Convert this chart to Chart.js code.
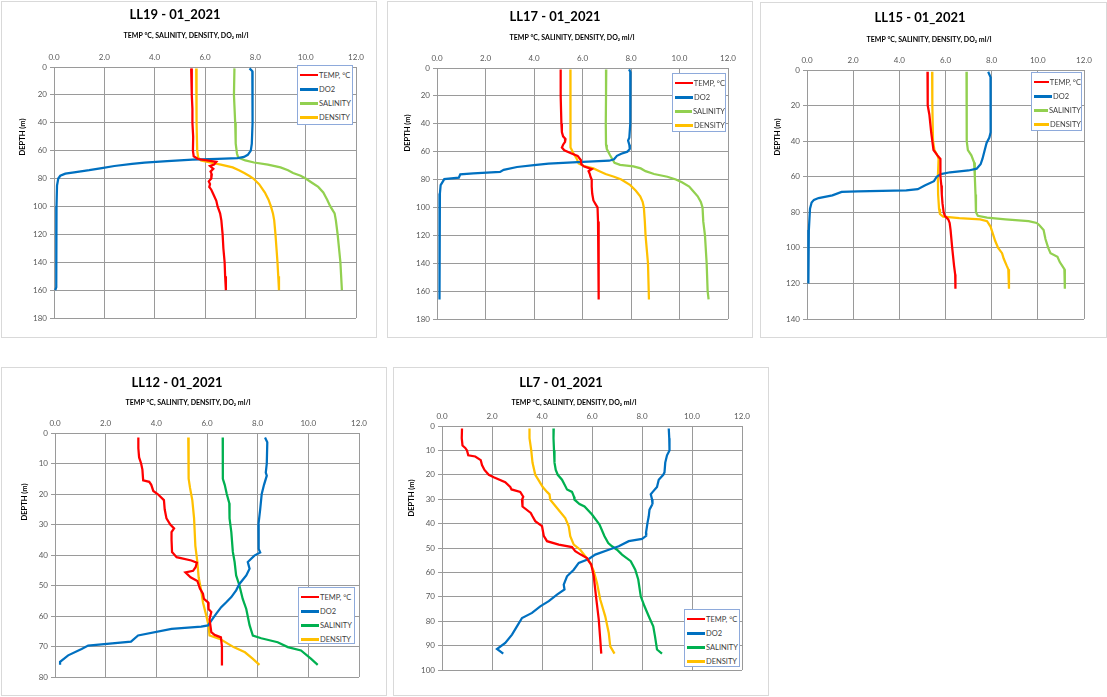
<!DOCTYPE html>
<html>
<head>
<meta charset="utf-8">
<script src="https://cdn.jsdelivr.net/npm/chart.js@4.4.1/dist/chart.umd.min.js"></script>
<style>
body { margin: 0; background: #fff; width: 1107px; height: 697px; position: relative; overflow: hidden; font-family: Lato, "Open Sans", sans-serif; }
canvas { position: absolute; outline: 1px solid #d9d9d9; }
.legend { position: absolute; box-sizing: border-box; border: 1px solid #8eaadb; background: #fff; padding-top: 2px; font-size: 7.5px; color: #404040; }
.legend .row { display: flex; align-items: center; height: 14.2px; white-space: nowrap; }
.legend .swatch { display: inline-block; width: 18px; height: 2.5px; margin: 0 1px 0 2px; }
</style>
</head>
<body>
<script>
// depth (m), value
const LL19_TEMP = [[1,5.45],[10,5.47],[20,5.48],[30,5.5],[40,5.5],[50,5.53],[60,5.52],[64,5.55],[66,5.72],[68,6.45],[70,6.36],[71,6.2],[73,6.33],[75,6.22],[77,6.27],[80,6.25],[82,6.15],[84,6.2],[86,6.17],[88,6.25],[92,6.35],[96,6.45],[100,6.5],[105,6.6],[110,6.65],[120,6.7],[130,6.73],[140,6.78],[150,6.8],[160,6.83]];
const LL19_DO2 = [[1,7.77],[3,7.88],[20,7.9],[40,7.88],[55,7.86],[60,7.82],[63,7.7],[64.5,7.55],[65.3,7.3],[65.8,6.5],[66.5,5.5],[67.5,4.5],[68.5,3.6],[69.5,3.1],[71,2.4],[72.5,1.9],[74,1.4],[75.5,0.8],[76.5,0.45],[78,0.25],[80,0.17],[85,0.12],[100,0.1],[130,0.09],[158,0.09],[160,0.05]];
const LL19_SALINITY = [[1,7.17],[20,7.15],[40,7.2],[55,7.22],[62,7.27],[65,7.32],[67,7.6],[68.5,7.95],[70,8.5],[72,9.0],[74,9.3],[76,9.5],[78,9.8],[80,10.0],[83,10.25],[86,10.5],[90,10.7],[95,10.85],[100,10.98],[105,11.15],[110,11.2],[120,11.27],[140,11.38],[160,11.44]];
const LL19_DENSITY = [[1,5.65],[20,5.66],[40,5.67],[60,5.69],[65,5.73],[67,5.84],[68.5,6.2],[70,6.63],[72,7.1],[74,7.35],[76,7.56],[78,7.75],[80,7.92],[84,8.15],[90,8.38],[95,8.52],[100,8.62],[105,8.7],[110,8.75],[120,8.8],[130,8.84],[140,8.88],[150,8.91],[160,8.94]];

const LL17_TEMP = [[1,5.1],[20,5.1],[40,5.13],[46,5.15],[49,5.2],[51,5.3],[53,5.28],[55,5.2],[57,5.15],[59,5.25],[61,5.5],[63,5.8],[66,5.93],[69,5.95],[70.5,6.05],[72.5,6.38],[74,6.25],[76,6.3],[78,6.33],[80,6.38],[85,6.38],[90,6.4],[95,6.45],[98,6.55],[100,6.62],[110,6.64],[120,6.65],[140,6.67],[166,6.68]];
const LL17_DO2 = [[1,7.92],[3,7.98],[20,7.97],[40,7.97],[50,7.93],[52,7.88],[55,7.93],[58,7.95],[60,7.85],[61.5,7.6],[63,7.42],[65.5,7.3],[66.5,7.1],[67.5,5.8],[68.5,4.6],[69.6,4.0],[71,3.3],[73,2.75],[74.5,2.6],[75.5,1.5],[76.3,0.96],[78.7,0.9],[79.7,0.3],[82,0.22],[84,0.15],[90,0.12],[100,0.11],[130,0.1],[166,0.1]];
const LL17_SALINITY = [[1,6.98],[20,6.97],[40,6.96],[55,6.97],[58,7.0],[62,7.12],[66,7.25],[68,7.32],[69.5,7.55],[70.5,8.1],[72,8.4],[74,8.6],[76,8.95],[78,9.5],[80,9.85],[82,10.1],[85,10.4],[88,10.55],[92,10.75],[96,10.88],[100,10.95],[110,10.98],[120,11.05],[140,11.12],[160,11.16],[166,11.2]];
const LL17_DENSITY = [[1,5.5],[20,5.5],[40,5.5],[52,5.5],[57,5.52],[61,5.62],[65,5.76],[68.5,5.84],[70.3,6.05],[72,6.45],[74,6.7],[76,6.95],[78,7.3],[80,7.6],[84,7.97],[88,8.2],[92,8.38],[96,8.48],[100,8.53],[110,8.57],[120,8.6],[140,8.7],[166,8.74]];

const LL15_TEMP = [[1,5.22],[10,5.22],[20,5.24],[25,5.3],[35,5.38],[45,5.48],[48,5.65],[50,5.78],[55,5.79],[60,5.77],[65,5.82],[70,5.84],[75,5.87],[80,5.92],[82,5.97],[84,6.12],[86,6.18],[90,6.22],[100,6.29],[110,6.37],[115,6.42],[123,6.43]];
const LL15_DO2 = [[1,7.85],[4,7.95],[20,7.96],[35,7.95],[38,7.9],[41,7.78],[44,7.72],[50,7.6],[53,7.52],[55.5,7.35],[56.5,7.0],[57.5,6.2],[58.5,5.8],[60,5.62],[62.5,5.5],[65,5.1],[67,4.8],[67.7,4.3],[68.2,2.2],[68.5,1.5],[70.5,1.1],[72,0.5],[73,0.3],[74.5,0.2],[78,0.13],[90,0.08],[100,0.07],[120,0.05]];
const LL15_SALINITY = [[1,6.91],[20,6.91],[40,6.93],[45,6.97],[48,7.12],[52,7.24],[60,7.27],[70,7.3],[80,7.32],[82,7.4],[83,7.8],[84,8.6],[85,9.6],[86,9.95],[87,10.05],[90,10.25],[95,10.33],[100,10.45],[103,10.55],[105,10.85],[108,10.95],[112,11.15],[123,11.17]];
const LL15_DENSITY = [[1,5.42],[20,5.43],[40,5.46],[45,5.52],[48,5.65],[50,5.7],[60,5.67],[70,5.68],[78,5.72],[81,5.76],[82.5,5.9],[83.3,6.6],[84,7.5],[85,7.8],[88,7.95],[92,8.05],[96,8.15],[100,8.28],[103,8.45],[106,8.52],[110,8.65],[112,8.72],[123,8.75]];

const LL12_TEMP = [[1.5,3.29],[5,3.29],[8,3.32],[10,3.4],[12,3.45],[15.5,3.48],[16,3.72],[17,3.8],[19,3.88],[20,4.05],[22,4.3],[25,4.33],[28,4.4],[30,4.55],[31.3,4.7],[32.5,4.6],[35,4.6],[39,4.62],[40.7,4.8],[41.8,5.38],[42.5,5.6],[44,5.55],[45.2,5.45],[45.7,5.15],[47.3,5.35],[48.5,5.62],[51,5.72],[52.7,5.84],[54.4,5.88],[55.5,6.04],[57.7,6.06],[58.7,6.17],[61,6.1],[65.3,6.17],[66.2,6.3],[67,6.55],[70,6.59],[76.2,6.59]];
const LL12_DO2 = [[1.5,8.29],[3,8.38],[10,8.36],[13,8.32],[14,8.36],[17,8.25],[20,8.16],[25,8.1],[30,8.03],[35,8.03],[38,8.05],[39.2,8.1],[40.2,7.87],[42.3,7.61],[44.5,7.68],[46.7,7.55],[49.5,7.28],[51.6,7.15],[53.8,6.96],[55.5,6.76],[57.1,6.56],[59.3,6.36],[61.5,6.17],[63.1,6.04],[63.5,5.77],[64.2,4.6],[66.4,3.28],[68.4,3.0],[69.7,1.31],[70.8,1.05],[72.9,0.52],[75,0.2],[76,0.2]];
const LL12_SALINITY = [[1.5,6.62],[10,6.62],[15,6.63],[17,6.7],[20,6.78],[23,6.88],[28,6.89],[32.5,6.96],[39,7.02],[42.3,7.09],[46.7,7.15],[50,7.28],[54.4,7.41],[57.7,7.55],[63,7.68],[66.4,7.81],[67.3,8.14],[68.6,8.79],[70.2,9.19],[71.3,9.71],[74,10.1],[76,10.37]];
const LL12_DENSITY = [[1.5,5.26],[10,5.27],[15,5.28],[18,5.33],[22,5.42],[28,5.49],[37,5.54],[42.3,5.62],[47.3,5.67],[51.6,5.77],[55.5,5.84],[59.8,5.97],[63.1,6.06],[66.4,6.1],[67.5,6.5],[70.2,7.05],[71.9,7.5],[74,7.8],[76,8.07]];

const LL7_TEMP = [[1,0.8],[5,0.79],[8,0.82],[9,0.93],[10,1.0],[12,1.05],[12.5,1.33],[14,1.55],[16,1.6],[18,1.7],[20,1.87],[21,2.07],[23,2.53],[25,2.73],[26,2.78],[27,3.13],[29,3.25],[30.2,3.2],[33,3.22],[35.6,3.55],[37,3.62],[39,3.73],[41,4.0],[45,4.07],[47.2,4.2],[48.6,4.67],[49.6,5.2],[51.3,5.33],[52.7,5.55],[54.1,5.8],[55.4,5.87],[56.8,5.97],[61.6,6.07],[69.8,6.16],[79.3,6.27],[87.5,6.33],[93.3,6.37]];
const LL7_DO2 = [[1,9.07],[5,9.09],[10,9.1],[12,9.0],[15,8.93],[19,8.9],[20,8.85],[22,8.67],[25,8.6],[27,8.43],[28,8.35],[30,8.4],[32,8.42],[34.3,8.3],[37,8.27],[39.7,8.22],[43.8,8.16],[45,8.17],[46.3,8.0],[47.2,7.47],[49.3,7.07],[50.7,6.67],[52.7,6.13],[54.5,5.87],[56.1,5.47],[58.9,5.27],[61.6,5.0],[65,4.87],[67,4.9],[69.1,4.6],[71.8,4.27],[73.9,3.93],[76.6,3.6],[78.7,3.2],[81.4,3.04],[85.5,2.8],[88.9,2.53],[91.4,2.2],[93.3,2.45]];
const LL7_SALINITY = [[1,4.47],[5,4.46],[10,4.48],[15,4.5],[18,4.55],[20,4.63],[22,4.8],[24,4.9],[26,5.0],[27,5.2],[29,5.28],[30.2,5.3],[32,5.5],[33,5.7],[36.3,6.0],[40.4,6.3],[45.2,6.5],[48,6.65],[49.3,6.8],[50.7,7.0],[52.7,7.2],[55.4,7.55],[58.9,7.73],[62.9,7.85],[69.8,7.95],[73.9,8.1],[78.7,8.3],[82.1,8.45],[86.2,8.52],[91.6,8.6],[93.3,8.8]];
const LL7_DENSITY = [[1,3.5],[5,3.5],[10,3.57],[15,3.62],[20,3.73],[22,3.85],[25,4.03],[27,4.2],[28,4.3],[30.2,4.33],[33.6,4.6],[37.7,4.93],[41.1,5.07],[45.2,5.13],[48.6,5.27],[50.7,5.53],[53.4,5.73],[56.1,5.93],[59.5,6.07],[64.3,6.2],[71.1,6.33],[78,6.53],[84.8,6.67],[90.3,6.73],[93.3,6.9]];

const SERIES_NAMES = ['TEMP, °C', 'DO2', 'SALINITY', 'DENSITY'];
const X_TICK_MAX = 12;
const X_TICK_STEP = 2;

const FONT = 'Lato, "Open Sans", sans-serif';
Chart.defaults.font.family = FONT;

// page-pixel layout of each panel: box [left, top, right, bottom], plot [left, top, right, bottom]
const panels = [
    { title: 'LL19 - 01_2021', data: [LL19_TEMP, LL19_DO2, LL19_SALINITY, LL19_DENSITY], yMax: 180, yStep: 20, sal: '#92D050',
      box: [2, 2, 376, 337], plot: [54, 67, 356, 318], titleAt: [175, 15], subAt: [186, 36], yTitleAt: [23, 137], legend: [297, 65, 56, 60] },
    { title: 'LL17 - 01_2021', data: [LL17_TEMP, LL17_DO2, LL17_SALINITY, LL17_DENSITY], yMax: 180, yStep: 20, sal: '#92D050',
      box: [388, 2, 752, 337], plot: [437, 68, 728, 319], titleAt: [555, 17], subAt: [572, 38], yTitleAt: [408, 133], legend: [672, 73, 54, 59] },
    { title: 'LL15 - 01_2021', data: [LL15_TEMP, LL15_DO2, LL15_SALINITY, LL15_DENSITY], yMax: 140, yStep: 20, sal: '#92D050',
      box: [761, 3, 1106, 337], plot: [807, 70, 1084, 319], titleAt: [920, 18], subAt: [929, 40], yTitleAt: [778, 137], legend: [1031, 72, 51, 59] },
    { title: 'LL12 - 01_2021', data: [LL12_TEMP, LL12_DO2, LL12_SALINITY, LL12_DENSITY], yMax: 80, yStep: 10, sal: '#00B050',
      box: [2, 368, 386, 695], plot: [55, 433, 359, 677], titleAt: [177, 383], subAt: [188, 403], yTitleAt: [25, 502], legend: [298, 587, 57, 57] },
    { title: 'LL7 - 01_2021', data: [LL7_TEMP, LL7_DO2, LL7_SALINITY, LL7_DENSITY], yMax: 100, yStep: 10, sal: '#00B050',
      box: [394, 368, 768, 695], plot: [442, 426, 742, 670], titleAt: [561, 383], subAt: [574, 403], yTitleAt: [412, 498], legend: [684, 609, 56, 58] }
];

const panelText = {
    id: 'panelText',
    afterDraw(chart, args, opts) {
        const ctx = chart.ctx;
        ctx.save();
        ctx.fillStyle = '#000';
        ctx.textAlign = 'center';
        ctx.textBaseline = 'middle';
        ctx.font = 'bold 13px ' + FONT;
        ctx.fillText(opts.title, opts.titleX, opts.titleY);
        ctx.font = 'bold 7px ' + FONT;
        ctx.fillText('TEMP °C, SALINITY, DENSITY, DO₂ ml/l', opts.subX, opts.subY);
        ctx.translate(opts.yTitleX, opts.yTitleY);
        ctx.rotate(-Math.PI / 2);
        ctx.font = 'bold 7.5px ' + FONT;
        ctx.fillText('DEPTH (m)', 0, 0);
        ctx.restore();
    }
};

function buildLegend(chart, pos) {
    const box = document.createElement('div');
    box.className = 'legend';
    box.style.left = pos[0] + 'px';
    box.style.top = pos[1] + 'px';
    box.style.width = pos[2] + 'px';
    box.style.height = pos[3] + 'px';
    chart.data.datasets.forEach(ds => {
        const row = document.createElement('div');
        row.className = 'row';
        const sw = document.createElement('span');
        sw.className = 'swatch';
        sw.style.background = ds.borderColor;
        row.appendChild(sw);
        row.appendChild(document.createTextNode(ds.label));
        box.appendChild(row);
    });
    document.body.appendChild(box);
}

function drawPanel(p) {
    const [L, T, R, B] = p.box;
    const W = R - L, H = B - T;
    const canvas = document.createElement('canvas');
    canvas.width = W;
    canvas.height = H;
    canvas.style.left = L + 'px';
    canvas.style.top = T + 'px';
    canvas.style.width = W + 'px';
    canvas.style.height = H + 'px';
    document.body.appendChild(canvas);

    const colors = ['#FF0000', '#0070C0', p.sal, '#FFC000'];
    const gridColor = '#9a9a9a';
    const tickFont = { size: 8 };

    const chart = new Chart(canvas.getContext('2d'), {
        type: 'scatter',
        data: {
            datasets: p.data.map((rows, i) => ({
                label: SERIES_NAMES[i],
                data: rows.map(r => ({ x: r[1], y: r[0] })),
                showLine: true,
                borderColor: colors[i],
                backgroundColor: colors[i],
                borderWidth: 2.25,
                pointRadius: 0,
                tension: 0
            }))
        },
        options: {
            responsive: false,
            animation: false,
            layout: { padding: { left: 0, top: 0, right: R - p.plot[2], bottom: B - p.plot[3] } },
            plugins: {
                legend: { display: false },
                tooltip: { enabled: false },
                panelText: {
                    title: p.title,
                    titleX: p.titleAt[0] - L, titleY: p.titleAt[1] - T,
                    subX: p.subAt[0] - L, subY: p.subAt[1] - T,
                    yTitleX: p.yTitleAt[0] - L, yTitleY: p.yTitleAt[1] - T
                }
            },
            scales: {
                x: {
                    type: 'linear',
                    position: 'top',
                    min: 0,
                    max: X_TICK_MAX,
                    ticks: { stepSize: X_TICK_STEP, font: tickFont, color: '#595959', padding: 5, callback: v => v.toFixed(1) },
                    grid: { color: gridColor, drawTicks: false },
                    border: { color: gridColor },
                    afterFit: s => { s.height = p.plot[1] - T; }
                },
                y: {
                    type: 'linear',
                    reverse: true,
                    min: 0,
                    max: p.yMax,
                    ticks: { stepSize: p.yStep, font: tickFont, color: '#595959', padding: 3 },
                    grid: { color: gridColor, tickLength: 4 },
                    border: { color: gridColor },
                    afterFit: s => { s.width = p.plot[0] - L; }
                }
            }
        },
        plugins: [panelText]
    });
    buildLegend(chart, p.legend);
}

panels.forEach(drawPanel);
</script>
</body>
</html>
